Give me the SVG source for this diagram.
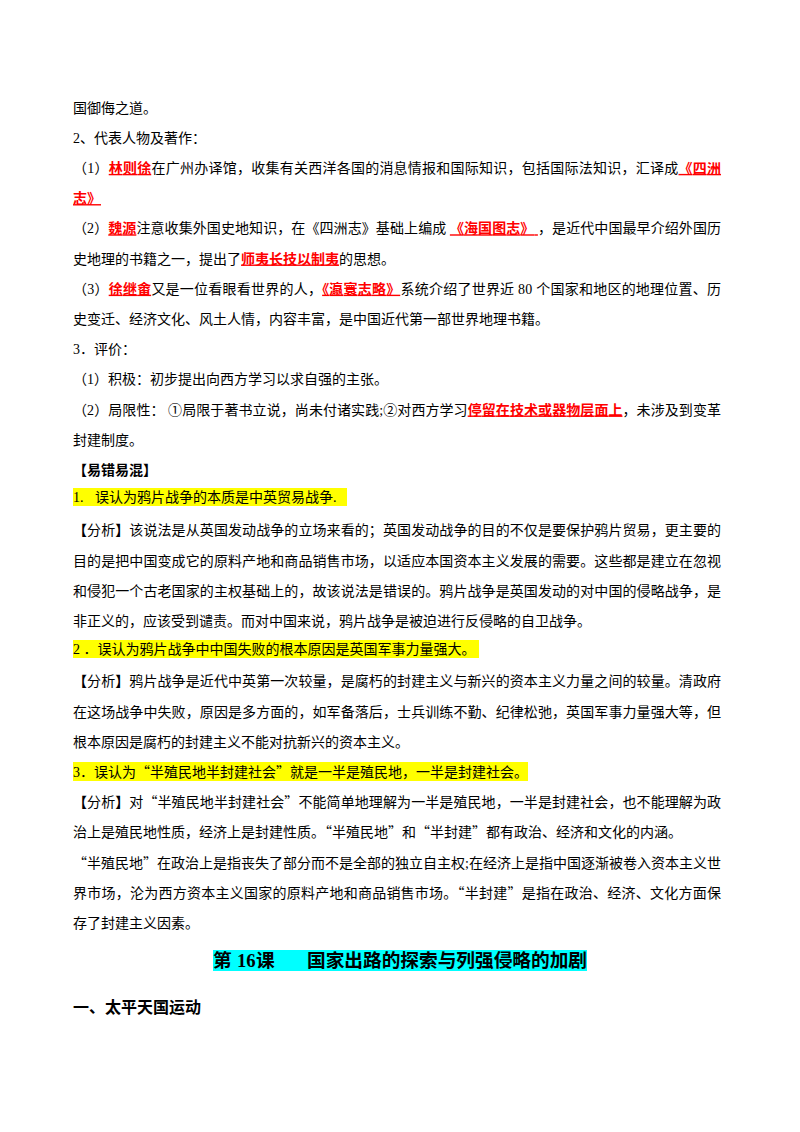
<svg xmlns="http://www.w3.org/2000/svg" width="800" height="1132" viewBox="0 0 800 1132">
<style>
.t{font-family:"Liberation Serif","Noto Sans CJK SC",serif;font-size:14px;fill:#000}
.r{fill:#ff0000;font-weight:bold;text-decoration:underline}
.b{font-weight:bold}
.q{font-family:"Noto Sans CJK SC",sans-serif}
.hl{fill:#ffff00}
.h1{font-family:"Liberation Serif","Noto Sans CJK SC",serif;font-size:18.7px;font-weight:bold;fill:#000}
.h2{font-family:"Liberation Serif","Noto Sans CJK SC",serif;font-size:16px;font-weight:bold;fill:#000}
</style>
<rect width="800" height="1132" fill="#ffffff"/>
<g id="highlights">
<rect class="hl" x="73" y="488" width="274" height="18"/>
<rect class="hl" x="73" y="640" width="406" height="18"/>
<rect class="hl" x="73" y="762" width="455" height="19"/>
<rect x="213" y="950" width="374" height="21" fill="#00ffff"/>
</g>
<g id="part-reformers">
<text class="t" x="73" y="112.5">国御侮之道。</text>
<text class="t" x="73" y="142.7">2、代表人物及著作：</text>
<text class="t" x="73" y="172.9" textLength="648" lengthAdjust="spacing">（1）<tspan class="r">林则徐</tspan>在广州办译馆，收集有关西洋各国的消息情报和国际知识，包括国际法知识，汇译成<tspan class="r">《四洲</tspan></text>
<text class="t" x="73" y="203.1"><tspan class="r">志》</tspan></text>
<text class="t" x="73" y="233.3" textLength="648" lengthAdjust="spacing">（2）<tspan class="r">魏源</tspan>注意收集外国史地知识，在《四洲志》基础上编成 <tspan class="r">《海国图志》 </tspan>，是近代中国最早介绍外国历</text>
<text class="t" x="73" y="263.5">史地理的书籍之一，提出了<tspan class="r">师夷长技以制夷</tspan>的思想。</text>
<text class="t" x="73" y="293.7" textLength="648" lengthAdjust="spacing">（3）<tspan class="r">徐继畬</tspan>又是一位看眼看世界的人，<tspan class="r">《瀛寰志略》</tspan>系统介绍了世界近 80 个国家和地区的地理位置、历</text>
<text class="t" x="73" y="323.9">史变迁、经济文化、风土人情，内容丰富，是中国近代第一部世界地理书籍。</text>
<text class="t" x="73" y="354.1">3．评价：</text>
<text class="t" x="73" y="384.3">（1）积极：初步提出向西方学习以求自强的主张。</text>
<text class="t" x="73" y="414.5" textLength="648" lengthAdjust="spacing">（2）局限性： ①局限于著书立说，尚未付诸实践;②对西方学习<tspan class="r">停留在技术或器物层面上</tspan>，未涉及到变革</text>
<text class="t" x="73" y="444.7">封建制度。</text>
</g>
<g id="part-mistakes">
<text class="t b" x="73" y="474.9">【易错易混】</text>
<text class="t" x="73" y="502">1.<tspan x="95">误认为鸦片战争的本质是中英贸易战争.</tspan></text>
<text class="t" x="73" y="535.3" textLength="648" lengthAdjust="spacing"><tspan class="b">【</tspan>分析<tspan class="b">】</tspan>该说法是从英国发动战争的立场来看的；英国发动战争的目的不仅是要保护鸦片贸易，更主要的</text>
<text class="t" x="73" y="565.5" textLength="648" lengthAdjust="spacing">目的是把中国变成它的原料产地和商品销售市场，以适应本国资本主义发展的需要。这些都是建立在忽视</text>
<text class="t" x="73" y="595.7" textLength="648" lengthAdjust="spacing">和侵犯一个古老国家的主权基础上的，故该说法是错误的。鸦片战争是英国发动的对中国的侵略战争，是</text>
<text class="t" x="73" y="625.9">非正义的，应该受到谴责。而对中国来说，鸦片战争是被迫进行反侵略的自卫战争。</text>
<text class="t" x="73" y="654">2 ．误认为鸦片战争中中国失败的根本原因是英国军事力量强大。</text>
<text class="t" x="73" y="686.3" textLength="648" lengthAdjust="spacing"><tspan class="b">【</tspan>分析<tspan class="b">】</tspan>鸦片战争是近代中英第一次较量，是腐朽的封建主义与新兴的资本主义力量之间的较量。清政府</text>
<text class="t" x="73" y="716.5" textLength="648" lengthAdjust="spacing">在这场战争中失败，原因是多方面的，如军备落后，士兵训练不勤、纪律松弛，英国军事力量强大等，但</text>
<text class="t" x="73" y="746.7">根本原因是腐朽的封建主义不能对抗新兴的资本主义。</text>
<text class="t" x="73" y="776.9">3．误认为<tspan class="q">“</tspan>半殖民地半封建社会<tspan class="q">”</tspan>就是一半是殖民地，一半是封建社会。</text>
<text class="t" x="73" y="807.1" textLength="648" lengthAdjust="spacing"><tspan class="b">【</tspan>分析<tspan class="b">】</tspan>对<tspan class="q">“</tspan>半殖民地半封建社会<tspan class="q">”</tspan>不能简单地理解为一半是殖民地，一半是封建社会，也不能理解为政</text>
<text class="t" x="73" y="837.3">治上是殖民地性质，经济上是封建性质。<tspan class="q">“</tspan>半殖民地<tspan class="q">”</tspan>和<tspan class="q">“</tspan>半封建<tspan class="q">”</tspan>都有政治、经济和文化的内涵。</text>
<text class="t" x="73" y="867.5" textLength="648" lengthAdjust="spacing"><tspan class="q">“</tspan>半殖民地<tspan class="q">”</tspan>在政治上是指丧失了部分而不是全部的独立自主权;在经济上是指中国逐渐被卷入资本主义世</text>
<text class="t" x="73" y="897.7" textLength="648" lengthAdjust="spacing">界市场，沦为西方资本主义国家的原料产地和商品销售市场。<tspan class="q">“</tspan>半封建<tspan class="q">”</tspan>是指在政治、经济、文化方面保</text>
<text class="t" x="73" y="927.9">存了封建主义因素。</text>
</g>
<g id="lesson16">
<text class="h1" y="967"><tspan x="213">第</tspan><tspan x="237">16</tspan><tspan x="256">课</tspan><tspan x="307" textLength="280" lengthAdjust="spacing">国家出路的探索与列强侵略的加剧</tspan></text>
<text class="h2" x="73" y="1013">一、太平天国运动</text>
</g>
</svg>
